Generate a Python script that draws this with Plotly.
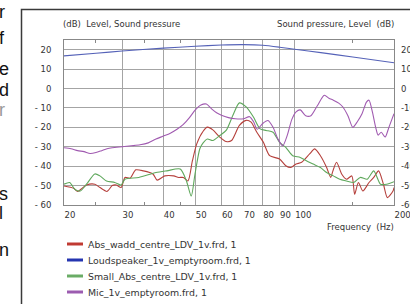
import math
import plotly.graph_objects as go

# ---------------- data ----------------
series_names = [
    "Abs_wadd_centre_LDV_1v.frd, 1",
    "Loudspeaker_1v_emptyroom.frd, 1",
    "Small_Abs_centre_LDV_1v.frd, 1",
    "Mic_1v_emptyroom.frd, 1",
]

red_freq = [20, 21.4, 22, 23.4, 24.8, 25.7, 27, 28, 28.8, 29.8, 30.6, 31.7, 33, 34.8, 37.2, 38.3,
            40.4, 43, 44.5, 46, 47.5, 49, 50.5, 52.8, 54.4, 56.5, 59.3, 62, 64.4, 68, 71.3, 73.8,
            76.8, 80.4, 84, 90, 94, 97.3, 101, 105, 111, 115, 119.7, 125, 128.6, 130.6, 134,
            138.8, 143.6, 149, 152, 156, 161, 168, 173.6, 179.6, 185.8, 191, 198.6, 200]
red_db = [-50.2, -51.4, -53, -49.7, -49.3, -51, -53, -50, -49.7, -51, -45.8, -46.2, -41.9, -42.4,
          -44, -47.2, -45, -45, -45.8, -45.8, -47.6, -37.2, -28.5, -22, -19.9, -21.3, -25, -27.3,
          -26.8, -19, -16.4, -17.3, -22.5, -27.7, -34.6, -36.3, -39.8, -40.7, -38.9, -38, -33.7,
          -31.1, -34.6, -40.7, -45.8, -42.4, -38, -44, -46.7, -45, -54.5, -48.4, -52.8, -48.4,
          -45.8, -42.4, -49.3, -56.2, -52.8, -51]

blue_freq = [20, 25, 30, 40, 50, 60, 70, 80, 90, 100, 120, 150, 200]
blue_db = [16.8, 18.2, 19.3, 20.8, 21.8, 22.4, 22.6, 22.3, 21.3, 20.2, 18.5, 16.2, 13.3]

green_freq = [20, 20.8, 21.6, 22.4, 23.4, 24.8, 25.7, 26.9, 28.5, 29.8, 30.6, 33.7, 38, 41, 45,
              47, 48.6, 49.9, 51.6, 52.8, 54.4, 56.5, 59.3, 62, 65, 68, 71.3, 75, 78.6, 82, 86,
              90, 94, 98.6, 104, 108.5, 113.8, 119.7, 125, 131, 137, 143.6, 151, 158, 166,
              173.6, 182, 190, 200]
green_db = [-49.3, -48.4, -52, -52.8, -49.3, -44, -45, -47.6, -48.4, -49.7, -46.7, -45.8, -43.3,
            -42.4, -41.5, -47.6, -55.4, -44, -31, -28, -26, -26.8, -24.2, -21.6, -13.8, -7.4,
            -9.5, -14.7, -20.8, -21.6, -22.5, -27.7, -30.3, -34.6, -35.5, -37.2, -38.9, -40.7,
            -43.3, -45, -46.7, -47.6, -48.4, -45.8, -46.7, -42.4, -49.3, -49.3, -48]

purple_freq = [20, 21, 22, 23, 24, 25, 26, 27, 28, 30, 32, 34, 36, 38, 40, 42, 44, 46, 48, 50,
               52, 54, 56, 58, 60, 63, 66, 70, 73, 75, 77, 80, 83, 86, 89, 92, 95, 98, 101, 104,
               108, 112, 117, 123, 127, 131, 136, 140, 145, 150, 155, 160, 165, 168, 172, 176,
               179, 183, 188, 193, 200]
purple_db = [-30.5, -31, -32, -32.5, -33.5, -33, -32, -31, -30.5, -30, -29.5, -29, -28, -26,
             -24.5, -23, -21, -18.5, -15, -11, -8.5, -8, -10.5, -12.5, -13.8, -15, -15.6, -15.6,
             -14.5, -17, -21, -18, -16.5, -20, -26, -29.5, -24, -16, -12, -11, -14, -14, -9,
             -3.5, -5, -6, -7.5, -9.5, -14, -20, -17, -13, -7, -6, -12, -20, -24, -22.5, -25,
             -20, -13]

line_colors = ["#b5403c", "#5562b8", "#5fa85c", "#a05ab0"]
swatch_colors = ["#c03a32", "#2535b0", "#6aac66", "#9c5cb0"]

y_ticks = [-60, -50, -40, -30, -20, -10, 0, 10, 20]
y_ticktext = ["- 60", "- 50", "- 40", "- 30", "- 20", "- 10", "0", "10", "20"]
x_ticks = [20, 30, 40, 50, 60, 70, 80, 90, 100, 200]
x_minor = [25, 35, 45, 150]

left_letters = ["r", "f", "e", "d", "r", "s", "l", "n"]

# ---------------- figure ----------------
W, H = 410, 304
ML, MR, MT, MB = 64, 16, 40, 99
PW, PH = W - ML - MR, H - MT - MB


def px_x(p):
    return (p - ML) / PW


def px_y(p):
    return (H - MB - p) / PH


fig = go.Figure()
all_x = [red_freq, blue_freq, green_freq, purple_freq]
all_y = [red_db, blue_db, green_db, purple_db]
for name, xs, ys, c in zip(series_names, all_x, all_y, line_colors):
    fig.add_trace(go.Scatter(x=xs, y=ys, mode="lines", name=name,
                             line=dict(color=c, width=1.1, shape="spline", smoothing=0.7),
                             showlegend=False))

# invisible trace to activate right axis
fig.add_trace(go.Scatter(x=[20], y=[0], yaxis="y2", mode="markers",
                         marker=dict(opacity=0), showlegend=False, hoverinfo="skip"))

tick_font = dict(family="DejaVu Sans", size=8.5, color="#333")
grid_c = "#a4a4a4"

fig.update_layout(
    width=W, height=H,
    margin=dict(l=ML, r=MR, t=MT, b=MB),
    paper_bgcolor="white", plot_bgcolor="white",
    showlegend=False,
    xaxis=dict(type="log", range=[math.log10(20), math.log10(200)], automargin=False,
               tickvals=x_ticks, ticktext=[str(v) for v in x_ticks], tickangle=0,
               ticklabelposition="outside right", ticklabeloverflow="allow",
               ticks="", ticklabelstandoff=2,
               tickfont=tick_font, showgrid=True, gridcolor=grid_c, gridwidth=1,
               showline=True, linecolor="#888", mirror="ticks", zeroline=False,
               minor=dict(tickvals=x_minor, ticks="inside", ticklen=3, tickcolor="#888",
                          showgrid=False)),
    yaxis=dict(range=[-60, 25], tickvals=y_ticks, ticktext=y_ticktext, ticks="",
               automargin=False,
               tickfont=tick_font, showgrid=True, gridcolor=grid_c, gridwidth=1,
               showline=True, linecolor="#888", mirror=True, zeroline=False,
               ticklabelstandoff=10),
    yaxis2=dict(range=[-60, 25], overlaying="y", side="right", tickvals=y_ticks,
                automargin=False, ticklabeloverflow="allow",
                ticktext=[t.replace(" ", "") for t in y_ticktext], ticks="",
                tickfont=tick_font, showgrid=False, zeroline=False, showline=False,
                ticklabelstandoff=6),
)

nb = "\u00a0"
ann_font = dict(family="DejaVu Sans", size=8.5, color="#333")
fig.add_annotation(x=0, y=px_y(24), xref="paper", yref="paper", xanchor="left",
                   yanchor="middle", showarrow=False, font=ann_font, xshift=-3,
                   text=f"(dB){nb}{nb}Level, Sound pressure")
fig.add_annotation(x=1, y=px_y(24), xref="paper", yref="paper", xanchor="right",
                   yanchor="middle", showarrow=False, font=ann_font, xshift=2,
                   text=f"Sound pressure, Level{nb}{nb}(dB)")
fig.add_annotation(x=1, y=px_y(227), xref="paper", yref="paper", xanchor="right",
                   yanchor="middle", showarrow=False, font=ann_font, xshift=2,
                   text=f"Frequency{nb}{nb}(Hz)")

# legend (manual)
leg_rows = [244, 260, 276, 292]
for name, c, ry in zip(series_names, swatch_colors, leg_rows):
    fig.add_shape(type="line", xref="paper", yref="paper",
                  x0=px_x(67), x1=px_x(83), y0=px_y(ry), y1=px_y(ry),
                  line=dict(color=c, width=3))
    fig.add_annotation(x=px_x(88), y=px_y(ry), xref="paper", yref="paper",
                       xanchor="left", yanchor="middle", showarrow=False, xshift=-2,
                       font=dict(family="DejaVu Sans", size=9.4, color="#333"), text=name)

# outer frame of the chart box
fig.add_shape(type="rect", xref="paper", yref="paper",
              x0=px_x(21.5), x1=px_x(430), y0=px_y(330), y1=px_y(9.5),
              line=dict(color="#3a3a3a", width=1.5), fillcolor="rgba(0,0,0,0)", layer="below")

# document text fragments on the left edge
letter_y = [12, 38, 69, 90, 110, 194, 213, 250]
for ch, ly in zip(left_letters, letter_y):
    fig.add_annotation(x=px_x(0), y=px_y(ly), xref="paper", yref="paper",
                       xanchor="left", yanchor="middle", showarrow=False, xshift=-3,
                       font=dict(family="Liberation Sans", size=18,
                                 color="#999" if ly == 110 else "#111"), text=ch)

fig.write_html("out.html", config={"displayModeBar": False},
               post_script="document.body.style.margin='0';document.body.style.overflow='hidden';")
